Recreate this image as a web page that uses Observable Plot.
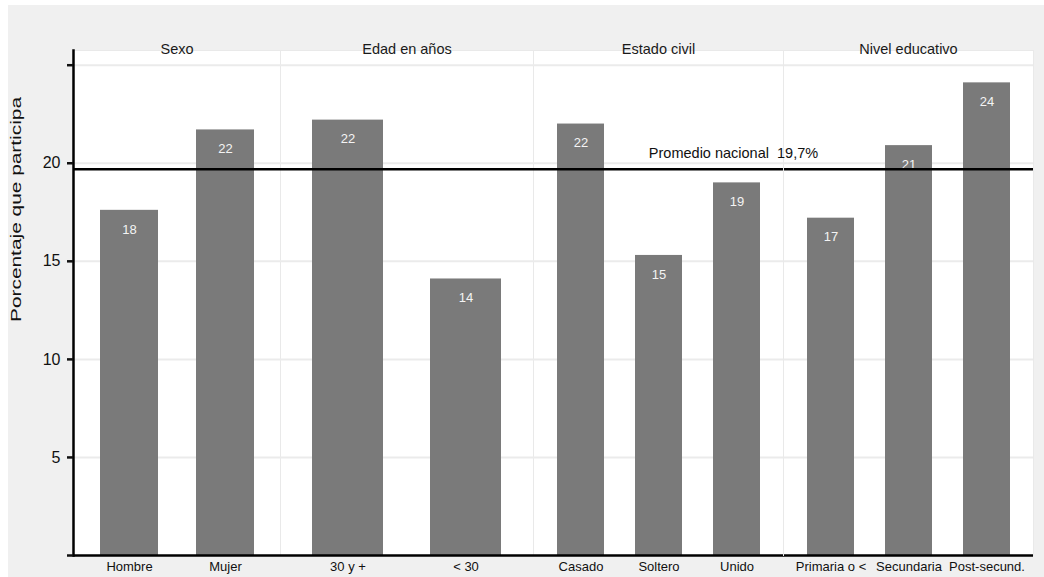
<!DOCTYPE html>
<html>
<head>
<meta charset="utf-8">
<script src="https://cdn.jsdelivr.net/npm/d3@7"></script>
<script src="https://cdn.jsdelivr.net/npm/@observablehq/plot@0.6"></script>
<style>
  body { margin: 0; background: #ffffff; font-family: "Liberation Sans", Arial, Helvetica, sans-serif; }
  #chart { position: absolute; left: 8px; top: 5px; width: 1036px; height: 572px; background: #f0f0f0; display: flex; }
  #chart svg { display: block; overflow: visible; }
</style>
</head>
<body>
<div id="chart"></div>
<script>
// ---- data ----
const groups = ["Sexo", "Edad en años", "Estado civil", "Nivel educativo"];
const categories = ["Hombre", "Mujer", "30 y +", "< 30", "Casado", "Soltero", "Unido", "Primaria o <", "Secundaria", "Post-secund."];
const categoryGroup = ["Sexo", "Sexo", "Edad en años", "Edad en años", "Estado civil", "Estado civil", "Estado civil", "Nivel educativo", "Nivel educativo", "Nivel educativo"];
const values = [17.6, 21.7, 22.2, 14.1, 22.0, 15.3, 19.0, 17.2, 20.9, 24.1];
const average = 19.7;
const averageLabel = "Promedio nacional\u00a0 19,7%";
const averageLabelGroup = "Estado civil";
const yTicks = [0, 5, 10, 15, 20, 25];
const yTickLabels = ["", "5", "10", "15", "20", ""];
const gridValues = [5, 10, 15, 20, 25];
const yTitle = "Porcentaje que participa";
const yMax = 25.75;

const rows = categories.map((c, i) => ({
  category: c, group: categoryGroup[i], value: values[i], label: String(Math.round(values[i]))
}));

// ---- layout ----
const panels = [
  {width: 272, marginLeft: 65, marginRight: 0, paddingOuter: 0.27},
  {width: 253, marginLeft: 0, marginRight: 0, paddingOuter: 0.27},
  {width: 250, marginLeft: 0, marginRight: 0, paddingOuter: 0.3},
  {width: 261, marginLeft: 0, marginRight: 11, paddingOuter: 0.3}
];
const font = "'Liberation Sans', Arial, Helvetica, sans-serif";
const chart = document.getElementById("chart");

groups.forEach((g, gi) => {
  const p = panels[gi];
  const sub = rows.filter(d => d.group === g);
  const first = gi === 0;
  const marks = [
    Plot.frame({fill: "white", stroke: "#e9e9e9", strokeWidth: 1}),
    Plot.ruleY(gridValues, {stroke: "#ebebeb", strokeWidth: 2}),
    Plot.barY(sub, {x: "category", y: "value", fill: "#7a7a7a"}),
    Plot.text(sub, {x: "category", y: "value", text: "label", dy: 19, fill: "#f4f4f4", fontSize: 13}),
    Plot.ruleY([average], {stroke: "black", strokeWidth: 2.5}),
    Plot.ruleY([0], {stroke: "black", strokeWidth: 2.5}),
    Plot.text([g], {frameAnchor: "top", dy: -7, fontSize: 14.5, fill: "#1a1a1a"}),
    Plot.axisX({tickSize: 0, tickPadding: 6, fontSize: 13, label: null, fill: "#111"})
  ];
  const hasAvgLabel = g === averageLabelGroup;
  if (hasAvgLabel) {
    marks.push(Plot.text([{label: averageLabel, value: average}], {y: "value", text: "label", dy: -15.5, dx: 75, fontSize: 14.5, fill: "#111"}));
  }
  if (first) {
    marks.push(
      Plot.frame({anchor: "left", stroke: "black", strokeWidth: 2.5}),
      Plot.axisY({ticks: yTicks, tickFormat: d => yTickLabels[yTicks.indexOf(d)], tickSize: 6, tickPadding: 7, strokeWidth: 2.5, fontSize: 16, label: null, fill: "#111"}),
      Plot.text([yTitle], {frameAnchor: "left", rotate: -90, dx: -57, dy: 19, fontSize: 15, fill: "#111"})
    );
  }
  const svg = Plot.plot({
    width: p.width, height: 572,
    marginTop: 45, marginBottom: 22, marginLeft: p.marginLeft, marginRight: p.marginRight,
    style: {background: "transparent", fontFamily: font, fontSize: "13px", color: "#111"},
    x: {type: "band", domain: sub.map(d => d.category), paddingInner: 0.4, paddingOuter: p.paddingOuter, label: null, axis: null},
    y: {domain: [0, yMax], label: null, axis: null},
    marks
  });
  svg.querySelectorAll("text").forEach(t => {
    if (t.textContent === yTitle) {
      t.setAttribute("textLength", "225");
      t.setAttribute("lengthAdjust", "spacingAndGlyphs");
    }
  });
  if (hasAvgLabel) {
    svg.style.position = "relative";
    svg.style.zIndex = "1";
  }
  chart.appendChild(svg);
});
</script>
</body>
</html>
